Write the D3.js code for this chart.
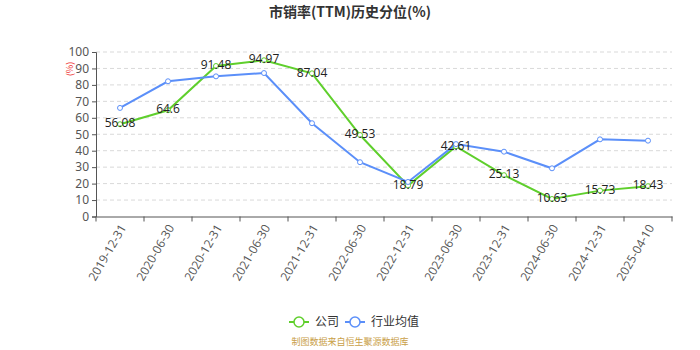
<!DOCTYPE html>
<html><head><meta charset="utf-8">
<script src="https://cdn.jsdelivr.net/npm/d3@7/dist/d3.min.js"></script>
<style>body{margin:0;background:#fff;}svg{display:block;font-family:"Noto Sans CJK SC","Noto Sans",sans-serif;}</style>
</head><body><svg id="c" width="700" height="350"></svg>
<script>
const categories = ["2019-12-31","2020-06-30","2020-12-31","2021-06-30","2021-12-31","2022-06-30","2022-12-31","2023-06-30","2023-12-31","2024-06-30","2024-12-31","2025-04-10"];
const companyValues = [56.08,64.6,91.48,94.97,87.04,49.53,18.79,42.61,25.13,10.63,15.73,18.43];
const industryValues = [66.0,82.2,85.2,87.2,56.7,33.0,21.0,44.0,39.4,29.3,46.9,46.1];
const yTicks = [0,10,20,30,40,50,60,70,80,90,100];
const seriesNames = ["公司","行业均值"];
const colors = ["#5fcf2c","#5b8ff9"];

const svg = d3.select("#c");
const L = 96, R = 672, T = 52, B = 216.5;
const x = d3.scaleBand().domain(categories).range([L, R]);
const y = d3.scaleLinear().domain([0,100]).range([B, T]);

svg.append("text").attr("x",350).attr("y",17).attr("text-anchor","middle")
  .attr("font-size",14).attr("font-weight","bold").attr("fill","#333").text("市销率(TTM)历史分位(%)");

// grid
svg.append("g").selectAll("line").data(yTicks.filter(d=>d>0)).join("line")
  .attr("x1",L).attr("x2",R).attr("y1",d=>y(d)).attr("y2",d=>y(d))
  .attr("stroke","#d9d9d9").attr("stroke-dasharray","4,3");

// y axis
const ya = svg.append("g").attr("transform",`translate(${L},0)`)
  .call(d3.axisLeft(y).tickValues(yTicks).tickSize(4).tickPadding(3));
ya.select(".domain").attr("stroke","#555");
ya.selectAll(".tick line").attr("stroke","#555");
ya.selectAll("text").attr("fill","#555").attr("font-size",12).attr("font-family","'Noto Sans',sans-serif");

svg.append("text").attr("transform","translate(70,69) rotate(-90)").attr("text-anchor","middle")
  .attr("dy","0.35em").attr("font-size",9).attr("fill","#e33").text("(%)");

// x axis
const xa = svg.append("g").attr("transform",`translate(0,${B})`)
  .call(d3.axisBottom(x).tickSize(0).tickFormat(""));
xa.select(".domain").attr("stroke","#555");
svg.append("g").selectAll("line").data(d3.range(categories.length+1)).join("line")
  .attr("x1",i=>L+i*x.bandwidth()).attr("x2",i=>L+i*x.bandwidth())
  .attr("y1",B).attr("y2",B+5).attr("stroke","#555");
svg.append("g").selectAll("text").data(categories).join("text")
  .attr("transform",d=>`translate(${x(d)+x.bandwidth()/2+3},${B+9}) rotate(-60)`)
  .attr("text-anchor","end").attr("dy","0.35em").attr("font-size",12).attr("fill","#555")
  .attr("font-family","'Open Sans','Noto Sans',sans-serif").text(d=>d);

const cx = d => x(d)+x.bandwidth()/2;
const line = d3.line().x((d,i)=>cx(categories[i])).y(d=>y(d));

[companyValues, industryValues].forEach((vals,k)=>{
  svg.append("path").datum(vals).attr("d",line).attr("fill","none")
    .attr("stroke",colors[k]).attr("stroke-width",2);
});
[companyValues, industryValues].forEach((vals,k)=>{
  svg.append("g").selectAll("circle").data(vals).join("circle")
    .attr("cx",(d,i)=>cx(categories[i])).attr("cy",d=>y(d)).attr("r",2.5)
    .attr("fill","#fff").attr("stroke",colors[k]).attr("stroke-width",1);
});
svg.append("g").selectAll("text").data(companyValues).join("text")
  .attr("x",(d,i)=>cx(categories[i])).attr("y",d=>y(d)-1).attr("dy","0.35em")
  .attr("text-anchor","middle").attr("font-size",12).attr("fill","#222")
  .attr("font-family","'Open Sans','Noto Sans',sans-serif").text(d=>d);

// legend
const leg = [{x:289, tx:315},{x:345, tx:371}];
leg.forEach((p,k)=>{
  const g = svg.append("g");
  g.append("line").attr("x1",p.x).attr("x2",p.x+20).attr("y1",322).attr("y2",322).attr("stroke",colors[k]).attr("stroke-width",2);
  g.append("circle").attr("cx",p.x+10).attr("cy",322).attr("r",5).attr("fill","#fff").attr("stroke",colors[k]).attr("stroke-width",1.5);
  g.append("text").attr("x",p.tx).attr("y",322).attr("dy","0.35em").attr("font-size",12).attr("fill","#333").text(seriesNames[k]);
});

svg.append("text").attr("x",350).attr("y",345).attr("text-anchor","middle").attr("font-size",9)
  .attr("fill","#c9a048").text("制图数据来自恒生聚源数据库");
</script></body></html>
